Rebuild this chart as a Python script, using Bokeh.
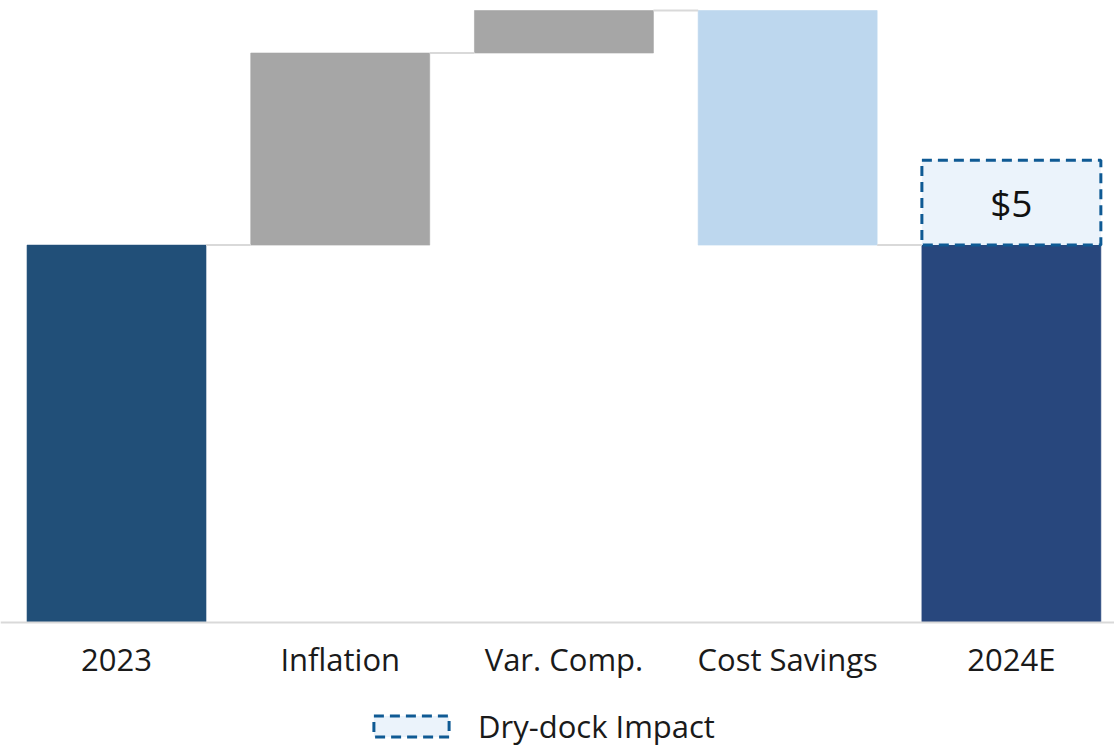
from bokeh.plotting import figure
from bokeh.models import Range1d, FixedTicker, Legend, LegendItem, ColumnDataSource
from bokeh.core.properties import value
from bokeh.embed import file_html
from bokeh.resources import INLINE

categories = ["2023", "Inflation", "Var. Comp.", "Cost Savings", "2024E"]
deltas = [22.2, 11.3, 2.5, -13.8, None]
drydock = 5.0
drydock_label = "$5"
legend_label = "Dry-dock Impact"

colors = ["#214f78", "#a6a6a6", "#a6a6a6", "#bdd7ee", "#28477d"]
FONT = "Open Sans"

# compute waterfall
bottoms, tops = [], []
level = 0.0
for i, d in enumerate(deltas):
    if i == 0:
        bottoms.append(0.0); tops.append(d); level = d
    elif d is None:
        bottoms.append(0.0); tops.append(level)
    else:
        new = level + d
        bottoms.append(min(level, new)); tops.append(max(level, new)); level = new

levels = []
lv = 0.0
for d in deltas[:-1]:
    lv += d
    levels.append(lv)

xs = list(range(len(categories)))
width = 0.8

p = figure(width=1114, height=749, output_backend="svg", toolbar_location=None,
           x_range=Range1d(-0.5186, 4.461), y_range=Range1d(-7.47, 36.59),
           min_border_left=0, min_border_right=0, min_border_top=0, min_border_bottom=0)
p.outline_line_color = None
p.xgrid.visible = False
p.ygrid.visible = False
p.yaxis.visible = False
p.background_fill_color = "white"
p.border_fill_color = "white"

src = ColumnDataSource(dict(x=xs, bottom=bottoms, top=tops, color=colors))
p.vbar(x="x", bottom="bottom", top="top", width=width, fill_color="color",
       line_color="color", line_alpha=0.6, source=src)

# connectors
x0 = [i + width / 2 for i in range(len(levels))]
x1 = [i + 1 - width / 2 for i in range(len(levels))]
p.segment(x0=x0, y0=levels, x1=x1, y1=levels, line_color="#d9d9d9", line_width=2)

# dry-dock box
dd = p.vbar(x=[xs[-1]], bottom=[tops[-1]], top=[tops[-1] + drydock], width=width,
            fill_color="#ebf3fb", line_color="#0f5a94", line_width=3, line_dash="10 6")
p.text(x=[xs[-1]], y=[tops[-1] + drydock / 2], text=[drydock_label],
       text_align="center", text_baseline="middle", text_font=value(FONT),
       text_font_size="37px", text_color="#111111")

ax = p.xaxis[0]
ax.fixed_location = 0
ax.ticker = FixedTicker(ticks=xs)
ax.major_label_overrides = {i: c for i, c in enumerate(categories)}
ax.major_tick_line_color = None
ax.minor_tick_line_color = None
ax.axis_line_color = "#d9d9d9"
ax.axis_line_width = 2
ax.major_label_text_font = FONT
ax.major_label_text_font_size = "31px"
ax.major_label_text_color = "#1a1a1a"
ax.major_label_standoff = 9

legend = Legend(items=[LegendItem(label=legend_label, renderers=[dd])],
                location=(364, 2), orientation="horizontal",
                glyph_width=94, glyph_height=26, label_standoff=20,
                label_text_font=FONT, label_text_font_size="31px",
                label_text_color="#1a1a1a", border_line_color=None,
                background_fill_alpha=0, margin=0, padding=0)
p.add_layout(legend, "center")

open("out.html", "w").write(file_html(p, INLINE))
